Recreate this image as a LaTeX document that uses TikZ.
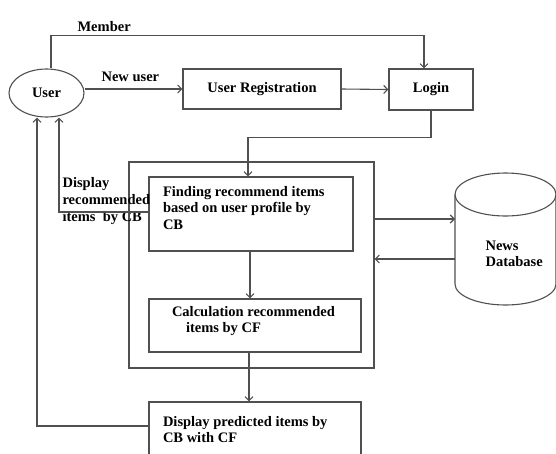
\documentclass[tikz,border=0pt]{standalone}
\usepackage{fontspec}
\setmainfont{Liberation Serif}
\usetikzlibrary{arrows.meta,shapes.geometric}
\definecolor{linegray}{RGB}{80,80,80}
\begin{document}
\begin{tikzpicture}[x=1pt,y=-1pt,
    font=\fontsize{14.5}{16.5}\selectfont\bfseries,
    >={Straight Barb[length=4pt,width=8pt]},
    line width=1.1pt,
    box/.style={draw=linegray,rectangle,inner sep=0pt},
    txt/.style={inner sep=0pt,align=left,anchor=north west},
    arr/.style={->,draw=linegray}]

\useasboundingbox (0,0) rectangle (556,453);
\clip (0,0) rectangle (556,453);

\node[draw=linegray,ellipse,minimum width=75,minimum height=48,inner sep=0pt] (user) at (46.5,93) {User};
\node[box,minimum width=158,minimum height=40] (reg) at (262,89) {User Registration};
\node[box,minimum width=84,minimum height=41] (login) at (431,89.5) {Login};

\node[box,minimum width=245,minimum height=206] (outer) at (251.5,265) {};
\node[box,minimum width=204,minimum height=74] (find) at (251,214) {};
\node[txt] (findtxt) at ([xshift=14,yshift=-9]find.north west)
    {Finding recommend items\\based on user profile by\\CB};
\node[box,minimum width=212,minimum height=53] (calc) at (255,325.5) {};
\node[txt] (calctxt) at ([xshift=23,yshift=-7]calc.north west)
    {Calculation recommended\\\hspace*{14pt}items by CF};
\node[box,minimum width=212,minimum height=68] (disp) at (255,436) {};
\node[txt] (disptxt) at ([xshift=14,yshift=-14]disp.north west)
    {Display predicted items by\\CB with CF};

% news database
\coordinate (db) at (505.5,239);
\draw[linegray] (455,194.5) -- (455,284)
    arc[start angle=180,end angle=0,x radius=50.5,y radius=21] -- (556,194.5);
\draw[linegray] (505.5,194.5) ellipse[x radius=50.5,y radius=21.5];
\node[txt] (dbtxt) at ([xshift=-20.5,yshift=-1]db) {News\\Database};

\node[inner sep=0pt,anchor=west] (member) at (77,27) {Member};
\node[inner sep=0pt,anchor=west] (newuser) at (101,77) {New user};
\node[txt,font=\fontsize{14.5}{17}\selectfont\bfseries] (showcb) at (62,177)
    {Display\\recommended\\items\ \ by CB};

\draw[arr] (user.east |- reg.west) -- (reg.west);
\draw[arr] ([xshift=4.5]user.north) -- ++(0,-33) -| ([xshift=-7]login.north);
\draw[arr] (reg.east) -- (login.west);
\draw[arr] (login.south) -- ++(0,27) -| ([xshift=-3]find.north);
\draw[arr] ([xshift=-1]find.south) -- ([xshift=-1]find.south |- calc.north);
\draw[arr] ([xshift=-6]calc.south) -- ([xshift=-6]calc.south |- disp.north);

\coordinate (dbin) at ([xshift=-50.5,yshift=20]db);
\coordinate (dbout) at ([xshift=-50.5,yshift=-20]db);
\draw[arr] (outer.east |- dbin) -- (dbin);
\draw[arr] (dbout) -- (outer.east |- dbout);

\draw[arr] ([yshift=2]find.west) -| ([xshift=12.5]user.south);
\draw[arr] ([yshift=10]disp.west) -| ([xshift=-9.5]user.south);

\end{tikzpicture}
\end{document}
